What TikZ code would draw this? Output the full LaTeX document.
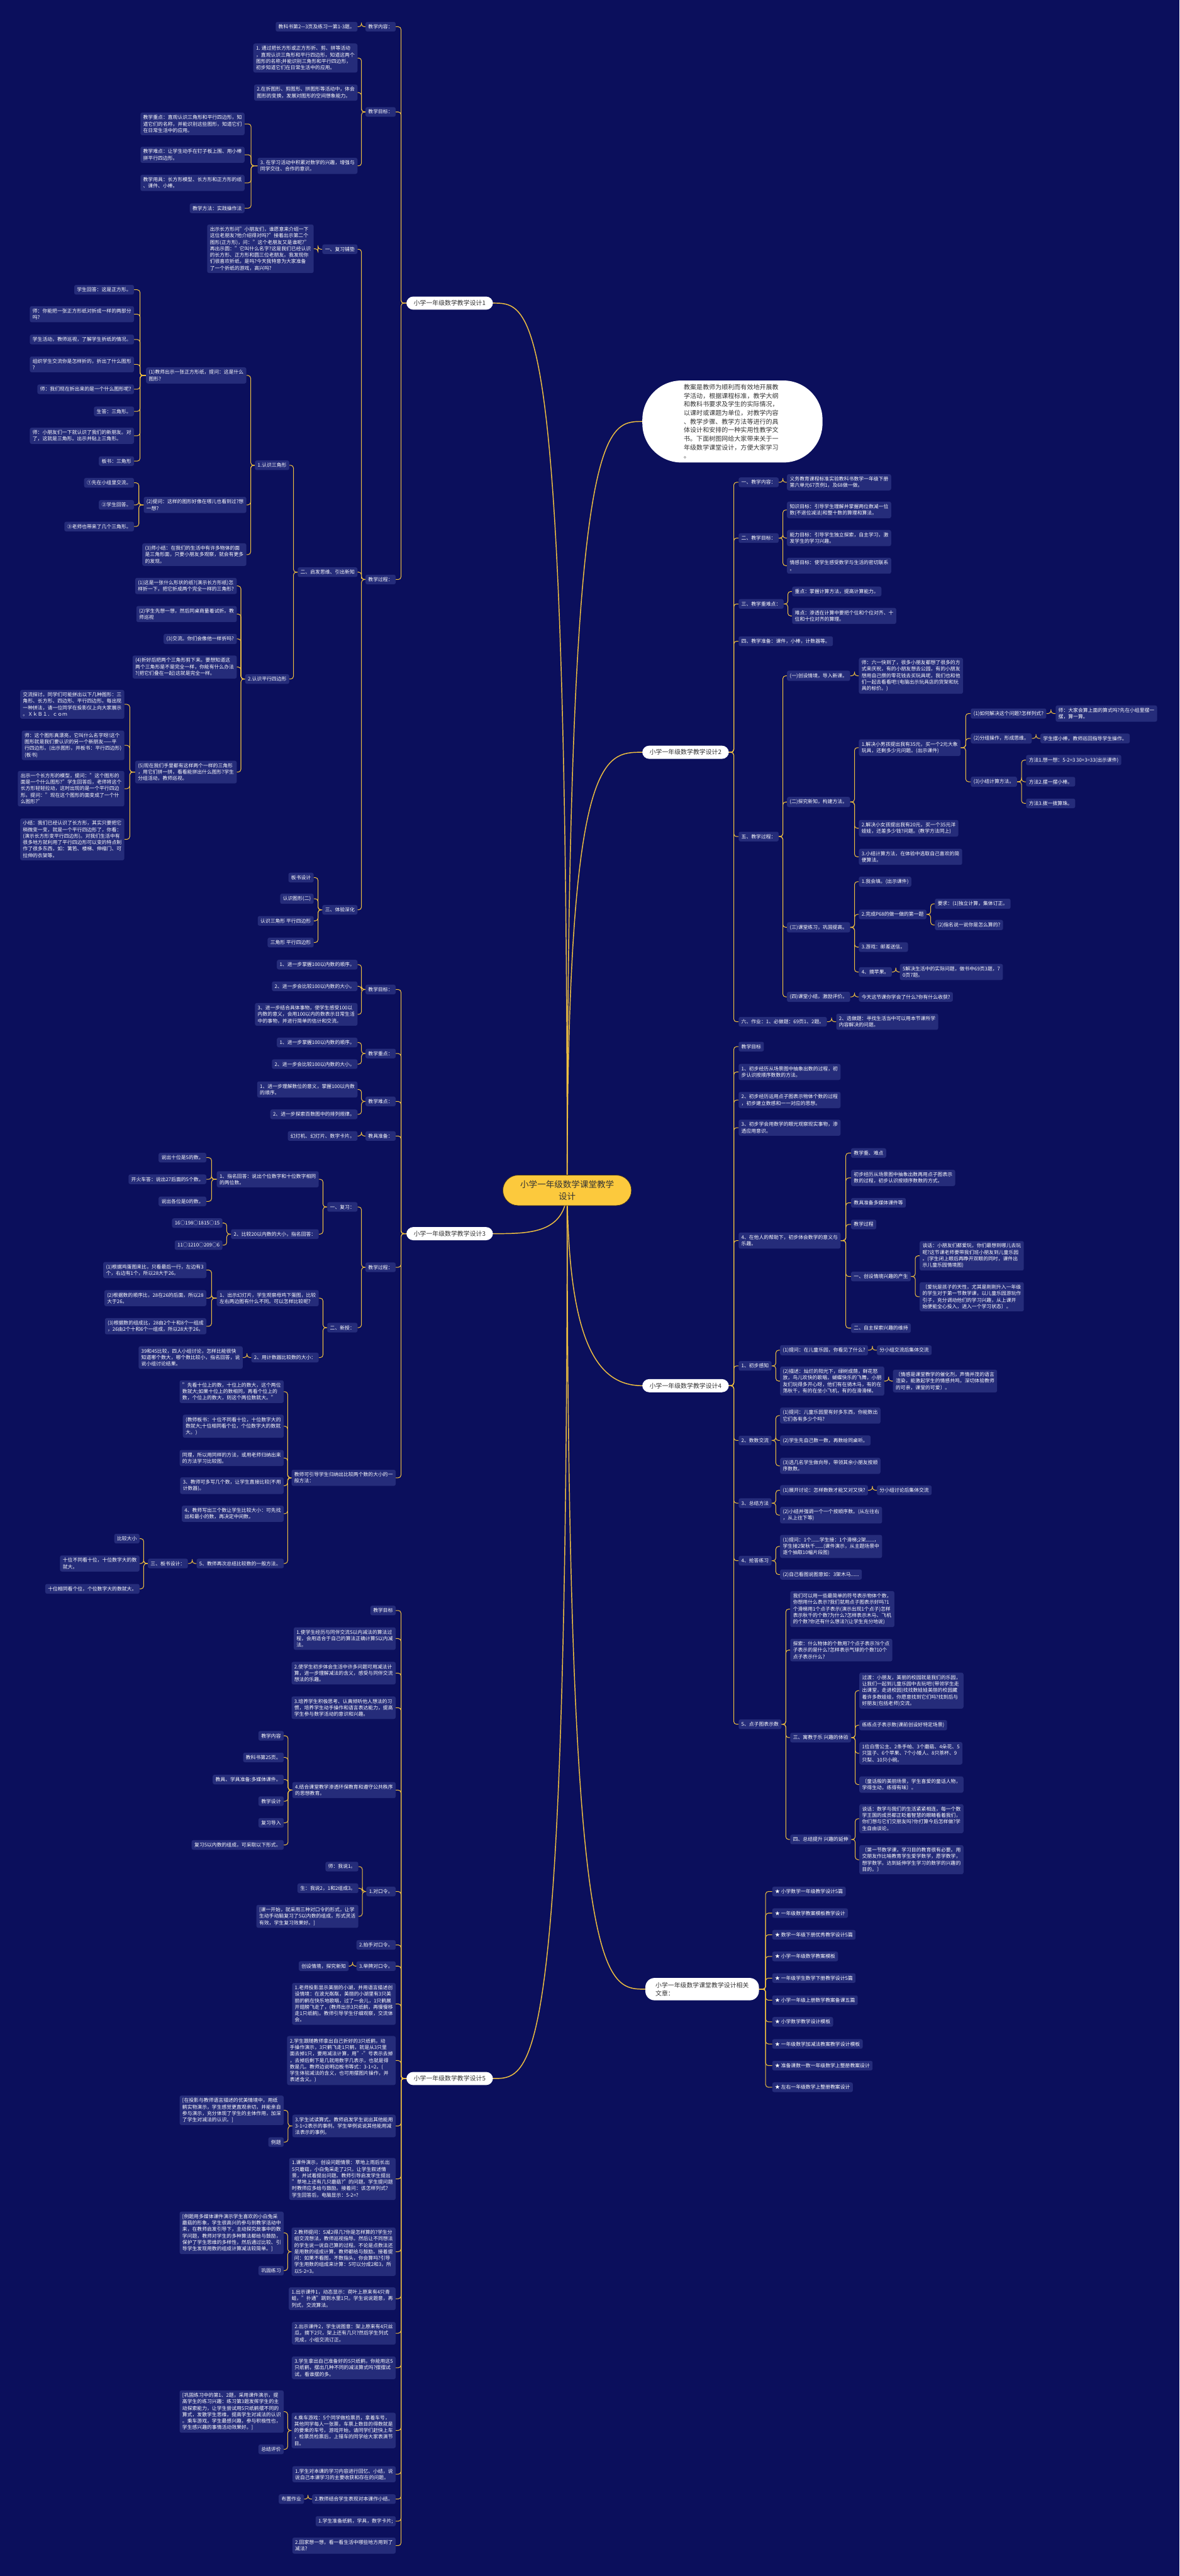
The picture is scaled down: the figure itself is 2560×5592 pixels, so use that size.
\documentclass[tikz,border=0pt]{standalone}
\usepackage{fontspec}
\setmainfont{Noto Sans CJK SC}
\usetikzlibrary{calc,backgrounds}
\definecolor{bgc}{RGB}{11,15,92}
\definecolor{ndc}{RGB}{37,44,122}
\definecolor{lnc}{RGB}{240,192,64}
\definecolor{ctc}{RGB}{252,201,61}
\definecolor{txd}{RGB}{51,51,51}
\tikzset{
 nd/.style={fill=ndc,text=white,rounded corners=4pt,inner xsep=6pt,inner ysep=5.5pt,font=\fontsize{10.7}{14}\selectfont,align=left},
 lnode/.style={nd,anchor=east},
 rnode/.style={nd,anchor=west},
 brnode/.style={fill=white,text=txd,rounded corners=15pt,inner xsep=16pt,inner ysep=8pt,font=\fontsize{13.5}{18}\selectfont,align=left},
 cnx/.style={draw=lnc,line width=1.4pt,rounded corners=6pt},
 mainln/.style={draw=lnc,line width=2pt},
}
\newcommand\lkL[2]{\draw[cnx] (#1.west) -| ($(#1.west)!.5!(#2.east)$) |- (#2.east);}
\newcommand\lkR[2]{\draw[cnx] (#1.east) -| ($(#1.east)!.5!(#2.west)$) |- (#2.west);}
\begin{document}
\begin{tikzpicture}[x=1pt,y=-1pt]
\useasboundingbox (0,0) rectangle (2560,5592);
% center
\node[fill=ctc,draw={rgb,255:red,70;green,55;blue,30},line width=1pt,text=txd,rounded corners=33pt,minimum width=279pt,minimum height=66pt,inner sep=0pt,align=center,font=\fontsize{18.5}{25}\selectfont] (c) at (1231,2584) {小学一年级数学课堂教学\\设计};
\node[fill=white,text=txd,rounded corners=85pt,anchor=west,minimum height=178pt,inner xsep=90pt,inner ysep=8pt,text width=211pt,align=left,font=\fontsize{13.7}{18.6}\selectfont] (intro) at (1394,915) {教案是教师为顺利而有效地开展教\\学活动，根据课程标准，教学大纲\\和教科书要求及学生的实际情况，\\以课时或课题为单位，对教学内容\\、教学步骤、教学方法等进行的具\\体设计和安排的一种实用性教学文\\书。下面树图网给大家带来关于一\\年级数学课堂设计，方便大家学习\\。};
% ================= Branch 1
\node[brnode] (b1) at (976,658) {小学一年级数学教学设计1};
\node[lnode] (b1a) at (859,58) {教学内容：};
\node[lnode] (b1b) at (859,243) {教学目标：};
\node[lnode] (b1c) at (859,1258) {教学过程：};
\node[lnode] (b1a1) at (776,58) {教科书第2—3页及练习一第1-3题。};
\node[lnode] (b1b1) at (776,126) {1. 通过把长方形或正方形折、剪、拼等活动\\，直观认识三角形和平行四边形，知道这两个\\图形的名称;并能识别三角形和平行四边形，\\初步知道它们在日常生活中的应用。};
\node[lnode] (b1b2) at (776,201) {2.在折图形、剪图形、拼图形等活动中，体会\\图形的变换，发展对图形的空间想象能力。};
\node[lnode] (b1b3) at (776,360) {3. 在学习活动中积累对数学的兴趣，增强与\\同学交往、合作的意识。};
\node[lnode] (b1b3a) at (531,269) {教学重点：直观认识三角形和平行四边形，知\\道它们的名称，并能识别这些图形，知道它们\\在日常生活中的应用。};
\node[lnode] (b1b3b) at (531,336) {教学难点：让学生动手在钉子板上围、用小棒\\拼平行四边形。};
\node[lnode] (b1b3c) at (531,397) {教学用具：长方形模型、长方形和正方形的纸\\、课件、小棒。};
\node[lnode] (b1b3d) at (531,452) {教学方法：实践操作法};
\node[lnode] (b1c1) at (776,541) {一、复习铺垫};
\node[lnode] (b1c1a) at (681,540) {出示长方形问"小朋友们，谁愿意来介绍一下\\这位老朋友?他介绍得对吗?"接着出示第二个\\图形(正方形)，问："这个老朋友又是谁呢?"\\再出示圆："它叫什么名字?这是我们已经认识\\的长方形、正方形和圆三位老朋友。我发现你\\们很喜欢折纸，是吗?今天我特意为大家准备\\了一个折纸的游戏，高兴吗?};
\node[lnode] (b1c2) at (776,1242) {二、启发思维、引出新知};
\node[lnode] (b1c2a) at (628,1010) {1.认识三角形};
\node[lnode] (b1c2b) at (628,1474) {2.认识平行四边形};
\node[lnode] (b1c2a1) at (535,815) {(1)教师出示一张正方形纸，提问：这是什么\\图形?};
\node[lnode] (b1c2a2) at (535,1096) {(2)提问：这样的图形好像在哪儿也看到过?想\\一想?};
\node[lnode] (b1c2a3) at (535,1204) {(3)师小结：在我们的生活中有许多物体的面\\是三角形面，只要小朋友多观察，就会有更多\\的发现。};
\node[lnode] (p1) at (291,629) {学生回答：这是正方形。};
\node[lnode] (p2) at (291,682) {师：你能把一张正方形纸对折成一样的两部分\\吗?};
\node[lnode] (p3) at (291,737) {学生活动，教师巡视，了解学生折纸的情况。};
\node[lnode] (p4) at (291,791) {组织学生交流你是怎样折的，折出了什么图形\\?};
\node[lnode] (p5) at (291,845) {师：我们现在折出来的是一个什么图形呢?};
\node[lnode] (p6) at (291,893) {生答：三角形。};
\node[lnode] (p7) at (291,946) {师：小朋友们一下就认识了我们的新朋友。对\\了，这就是三角形。出示并贴上三角形。};
\node[lnode] (p8) at (291,1001) {板书：三角形};
\node[lnode] (q1) at (291,1048) {①先在小组里交流。};
\node[lnode] (q2) at (291,1096) {②学生回答。};
\node[lnode] (q3) at (291,1143) {③老师也带来了几个三角形。};
\node[lnode] (r1) at (514,1272) {(1)这是一张什么形状的纸?(演示长方形纸)怎\\样折一下，把它折成两个完全一样的三角形?};
\node[lnode] (r2) at (514,1333) {(2)学生先想一想，然后同桌商量着试折。教\\师巡视};
\node[lnode] (r3) at (514,1387) {(3)交流。你们会像他一样折吗?};
\node[lnode] (r4) at (514,1448) {(4)折好后把两个三角形剪下来。要想知道这\\两个三角形是不是完全一样，你能有什么办法\\?(把它们叠在一起)这就是完全一样。};
\node[lnode] (r5) at (514,1676) {(5)现在我们手里都有这样两个一样的三角形\\，用它们拼一拼，看看能拼出什么图形?学生\\分组活动，教师巡视。};
\node[lnode] (s1) at (270,1529) {交流探讨。同学们可能拼出以下几种图形：三\\角形、长方形、四边形、平行四边形。每出现\\一种拼法，请一位同学在投影仪上向大家展示\\。ＸｋＢ１．ｃｏｍ};
\node[lnode] (s2) at (270,1618) {师：这个图形真漂亮，它叫什么名字呀!这个\\图形就是我们要认识的另一个新朋友——平\\行四边形。(出示图形，并板书：平行四边形)\\(板书)};
\node[lnode] (s3) at (270,1712) {出示一个长方形的模型，提问："这个图形的\\面是一个什么图形?"学生回答后，老师将这个\\长方形轻轻拉动，这时出现的是一个平行四边\\形。提问："现在这个图形的面变成了一个什\\么图形?"};
\node[lnode] (s4) at (270,1822) {小结：我们已经认识了长方形，其实只要把它\\稍微变一变，就是一个平行四边形了，你看：\\(演示长方形变平行四边形)。对我们生活中有\\很多地方就利用了平行四边形可以变的特点制\\作了很多东西，如：篱笆、楼梯、伸缩门、可\\拉伸的衣架等。};
\node[lnode] (b1c3) at (776,1975) {三、体验深化};
\node[lnode] (t1) at (681,1905) {板书设计};
\node[lnode] (t2) at (681,1951) {认识图形(二)};
\node[lnode] (t3) at (681,1999) {认识三角形 平行四边形};
\node[lnode] (t4) at (681,2046) {三角形 平行四边形};
% ================= Branch 3
\node[brnode] (b3) at (976,2678) {小学一年级数学教学设计3};
\node[lnode] (b3a) at (859,2148) {教学目标：};
\node[lnode] (b3b) at (859,2287) {教学重点：};
\node[lnode] (b3c) at (859,2391) {教学难点：};
\node[lnode] (b3d) at (859,2466) {教具准备：};
\node[lnode] (b3e) at (859,2751) {教学过程：};
\node[lnode] (b3f) at (859,3208) {教师可引导学生归纳出比较两个数的大小的一\\般方法：};
\node[lnode] (b3a1) at (776,2094) {1、进一步掌握100以内数的顺序。};
\node[lnode] (b3a2) at (776,2141) {2、进一步会比较100以内数的大小。};
\node[lnode] (b3a3) at (776,2202) {3、进一步结合具体事物，使学生感受100以\\内数的意义，会用100以内的数表示日常生活\\中的事物，并进行简单的估计和交流。};
\node[lnode] (b3b1) at (776,2263) {1、进一步掌握100以内数的顺序。};
\node[lnode] (b3b2) at (776,2310) {2、进一步会比较100以内数的大小。};
\node[lnode] (b3c1) at (776,2365) {1、进一步理解数位的意义，掌握100以内数\\的顺序。};
\node[lnode] (b3c2) at (776,2419) {2、进一步探索百数图中的排列规律。};
\node[lnode] (b3d1) at (776,2466) {幻灯机、幻灯片、数字卡片。};
\node[lnode] (b3e1) at (776,2620) {一、复习：};
\node[lnode] (b3e2) at (776,2882) {二、新授：};
\node[lnode] (b3e1a) at (692,2560) {1、指名回答：说出个位数字和十位数字相同\\的两位数。};
\node[lnode] (b3e1b) at (692,2679) {2、比较20以内数的大小，指名回答：};
\node[lnode] (u1) at (448,2513) {说出十位是5的数。};
\node[lnode] (u2) at (448,2560) {开火车答：说出27后面的5个数。};
\node[lnode] (u3) at (448,2608) {说出各位是0的数。};
\node[lnode] (v1) at (483,2655) {16○198○1815○15};
\node[lnode] (v2) at (483,2703) {11○1210○209○6};
\node[lnode] (b3e2a) at (692,2818) {1、出示幻灯片，学生观察母鸡下蛋图，比较\\左右两边图有什么不同。可以怎样比较呢?};
\node[lnode] (b3e2b) at (692,2947) {2、用计数器比较数的大小：};
\node[lnode] (w1) at (448,2757) {(1)根据鸡蛋图来比，只看最后一行，左边有3\\个，右边有1个，所以28大于26。};
\node[lnode] (w2) at (448,2818) {(2)根据数的顺序比，28在26的后面，所以28\\大于26。};
\node[lnode] (w3) at (448,2879) {(3)根据数的组成比，28由2个十和8个一组成\\，26由2个十和6个一组成，所以28大于26。};
\node[lnode] (w4) at (527,2947) {39和45比较，四人小组讨论，怎样比能很快\\知道哪个数大，哪个数比较小，指名回答，说\\说小组讨论结果。};
\node[lnode] (f1) at (616,3021) {"先看十位上的数，十位上的数大，这个两位\\数就大;如果十位上的数相同，再看个位上的\\数，个位上的数大，则这个两位数就大。"};
\node[lnode] (f2) at (616,3096) {(教师板书：十位不同看十位，十位数字大的\\数就大;十位相同看个位，个位数字大的数就\\大。)};
\node[lnode] (f3) at (616,3165) {同理，所以用同样的方法，或用老师归纳出来\\的方法学习比较图。};
\node[lnode] (f4) at (616,3225) {3、教师可多写几个数，让学生直接比较(不用\\计数器)。};
\node[lnode] (f5) at (616,3286) {4、教师写出三个数让学生比较大小：可先找\\出和最小的数，再决定中间数。};
\node[lnode] (f6) at (616,3394) {5、教师再次总结比较数的一般方法。};
\node[lnode] (g) at (408,3394) {三、板书设计：};
\node[lnode] (g1) at (303,3340) {比较大小};
\node[lnode] (g2) at (303,3394) {十位不同看十位，十位数字大的数\\就大。};
\node[lnode] (g3) at (303,3449) {十位相同看个位，个位数字大的数就大。};
% ================= Branch 5
\node[brnode] (b5) at (976,4512) {小学一年级数学教学设计5};
\node[lnode] (e1) at (859,3496) {教学目标};
\node[lnode] (e2) at (859,3557) {1.使学生经历与同伴交流5以内减法的算法过\\程，会用适合于自己的算法正确计算5以内减\\法。};
\node[lnode] (e3) at (859,3632) {2.使学生初步体会生活中许多问题可用减法计\\算，进一步理解减法的含义，感受与同伴交流\\想法的乐趣。};
\node[lnode] (e4) at (859,3707) {3.培养学生积极思考、认真倾听他人想法的习\\惯，培养学生动手操作和语言表达能力，提高\\学生参与数学活动的意识和兴趣。};
\node[lnode] (e5) at (859,3886) {4.结合课堂教学渗透环保教育和遵守公共秩序\\的思想教育。};
\node[lnode] (e6) at (859,4106) {1.对口令。};
\node[lnode] (e7) at (859,4222) {2.拍手对口令。};
\node[lnode] (e8) at (859,4268) {3.举牌对口令。};
\node[lnode] (e9) at (859,4350) {1.老师投影显示美丽的小湖，并用语言描述创\\设情境：在波光粼粼，美丽的小湖里有3只美\\丽的鹤在快乐地歌唱，过了一会儿，1只鹤展\\开翅膀飞走了，(教师出示3只纸鹤，再慢慢移\\走1只纸鹤)。教师引导学生仔细观察，交流体\\会。};
\node[lnode] (e10) at (859,4473) {2.学生跟随教师拿出自己折好的3只纸鹤，动\\手操作演示，3只鹤飞走1只鹤，就是从3只里\\面去掉1只，要用减法计算，用"-"号表示去掉\\，去掉后剩下是几就用数字几表示，也就是得\\数是几。教师边说明边板书等式：3-1=2。(\\学生体验减法的含义，也可用摆图片操作，并\\表述含义。)};
\node[lnode] (e11) at (859,4615) {3.学生试读算式。教师启发学生说出其他能用\\3-1=2表示的事例。学生举例说说其他能用减\\法表示的事例。};
\node[lnode] (e12) at (859,4730) {1.课件演示，创设问题情景：草地上雨后长出\\5只蘑菇，小白兔采走了2只。让学生叙述情\\景，并试着提出问题。教师引导启发学生提出\\"草地上还有几只蘑菇?"的问题。学生提问题\\时教师应多给与鼓励。接着问：该怎样列式?\\学生回答后，电脑显示：5-2=?};
\node[lnode] (e13) at (859,4888) {2.教师提问：5减2得几?你是怎样算的?学生分\\组交流想法，教师巡视指导。然后让不同想法\\的学生说一说自己算的过程。不论是点数法还\\是用数的组成计算，教师都给与鼓励。接着提\\问：如果不看图，不数指头，你会算吗?引导\\学生用数的组成来计算：5可以分成2和3，所\\以5-2=3。};
\node[lnode] (e14) at (859,4990) {1.出示课件1，动态显示：荷叶上原来有4只青\\蛙，"扑通"跳到水里1只。学生说说题意，再\\列式，交流算法。};
\node[lnode] (e15) at (859,5065) {2.出示课件2，学生说图意：架上原来有4只丝\\瓜，摘下2只，架上还有几只?然后学生列式\\完成，小组交流订正。};
\node[lnode] (e16) at (859,5140) {3.学生拿出自己准备好的5只纸鹤，你能用这5\\只纸鹤，摆出几种不同的减法算式吗?摆摆试\\试，看谁摆的多。};
\node[lnode] (e17) at (859,5276) {4.乘车游戏：5个同学做检票员，拿着车号，\\其他同学每人一张票，车票上数目的得数就是\\的要乘的车号。游戏开始，请同学们赶快上车\\，检票员检票后，上错车的同学给大家表演节\\目。};
\node[lnode] (e18) at (859,5371) {1.学生对本课的学习内容进行回忆、小结，说\\说自己本课学习的主要收获和存在的问题。};
\node[lnode] (e19) at (859,5425) {2.教师结合学生表现对本课作小结。};
\node[lnode] (e20) at (859,5473) {1.学生准备纸鹤，学具，数字卡片;};
\node[lnode] (e21) at (859,5526) {2.回家想一想，看一看生活中哪些地方用到了\\减法?};
\node[lnode] (e5a) at (616,3768) {教学内容};
\node[lnode] (e5b) at (616,3815) {教科书第25页。};
\node[lnode] (e5c) at (616,3863) {教具、学具准备:多媒体课件。};
\node[lnode] (e5d) at (616,3910) {教学设计};
\node[lnode] (e5e) at (616,3957) {复习导入};
\node[lnode] (e5f) at (616,4005) {复习5以内数的组成，可采取以下形式。};
\node[lnode] (e6a) at (778,4052) {师：我说1。};
\node[lnode] (e6b) at (778,4099) {生：我说2，1和2组成3。};
\node[lnode] (e6c) at (778,4160) {[课一开始，就采用三种对口令的形式，让学\\生动手动脑复习了5以内数的组成，形式灵活\\有效，学生复习效果好。]};
\node[lnode] (e8a) at (757,4268) {创设情境，探究新知};
\node[lnode] (e11a) at (616,4581) {[在投影与教师语言描述的优美情境中，用纸\\鹤实物演示，学生感觉更直观亲切，并能亲自\\参与演示，充分体现了学生的主体作用，加深\\了学生对减法的认识。]};
\node[lnode] (e11b) at (616,4650) {例题};
\node[lnode] (e13a) at (616,4847) {[例题用多媒体课件演示学生喜欢的小白兔采\\蘑菇的形象，学生很高兴的参与到教学活动中\\来，在教师启发引导下，主动探究故事中的数\\学问题，教师对学生的多种算法都给与鼓励，\\保护了学生思维的多样性，然后通过比较、引\\导学生发现用数的组成计算减法较简单。]};
\node[lnode] (e13b) at (616,4929) {巩固练习};
\node[lnode] (e17a) at (616,5235) {[巩固练习中的第1、2题，采用课件演示，提\\高学生的练习兴趣：练习第3题发挥学生的主\\动探索能力，让学生尝试用5只纸鹤摆不同的\\算式，发散学生思维，提高学生对减法的认识\\。乘车游戏，学生最感兴趣，参与积极性也，\\学生感兴趣的事情活动效果好。]};
\node[lnode] (e17b) at (616,5317) {总结评价};
\node[lnode] (e19a) at (660,5425) {布置作业};
% ================= Branch 2
\node[brnode] (b2) at (1488,1633) {小学一年级数学教学设计2};
\node[rnode] (h1) at (1603,1047) {一、教学内容：};
\node[rnode] (h2) at (1603,1168) {二、教学目标：};
\node[rnode] (h3) at (1603,1311) {三、教学重难点：};
\node[rnode] (h4) at (1603,1392) {四、教学准备：课件，小棒，计数器等。};
\node[rnode] (h5) at (1603,1816) {五、教学过程：};
\node[rnode] (h6) at (1603,2218) {六、作业：1、必做题：69页1、2题。};
\node[rnode] (h1a) at (1708,1047) {义务教育课程标准实验教科书数学一年级下册\\第六单元67页例1，及68做一做。};
\node[rnode] (h2a) at (1708,1107) {知识目标：引导学生理解并掌握两位数减一位\\数(不退位减法)和整十数的算理和算法。};
\node[rnode] (h2b) at (1708,1168) {能力目标：引导学生独立探索，自主学习，激\\发学生的学习兴趣。};
\node[rnode] (h2c) at (1708,1228) {情感目标：使学生感受数学与生活的密切联系\\。};
\node[rnode] (h3a) at (1719,1284) {重点：掌握计算方法，提高计算能力。};
\node[rnode] (h3b) at (1719,1337) {难点：渗透在计算中要把个位和个位对齐、十\\位和十位对齐的算理。};
\node[rnode] (h5a) at (1708,1467) {(一)创设情境，导入新课。};
\node[rnode] (h5b) at (1708,1741) {(二)探究新知，构建方法。};
\node[rnode] (h5c) at (1708,2013) {(三)课堂练习，巩固提高。};
\node[rnode] (h5d) at (1708,2164) {(四)课堂小结，激励评价。};
\node[rnode] (h5a1) at (1864,1467) {师：六一快到了，很多小朋友都想了很多的方\\式来庆祝，有的小朋友想去公园，有的小朋友\\想用自己攒的零花钱去买玩具呢，我们也和他\\们一起去看看吧!(电脑出示玩具店的货架和玩\\具的标价。)};
\node[rnode] (h5b1) at (1864,1623) {1.解决小男孩提出我有35元，买一个2元大象\\玩具，还剩多少元问题。(出示课件)};
\node[rnode] (h5b2) at (1864,1798) {2.解决小女孩提出我有20元，买一个35元洋\\娃娃，还差多少钱?问题。(教学方法同上)};
\node[rnode] (h5b3) at (1864,1860) {3.小结计算方法，在体验中选取自己喜欢的简\\便算法。};
\node[rnode] (k1) at (2107,1549) {(1)如何解决这个问题?怎样列式?};
\node[rnode] (k2) at (2107,1603) {(2)分组操作，形成思维。};
\node[rnode] (k3) at (2107,1697) {(3)小结计算方法。};
\node[rnode] (k1a) at (2291,1549) {师：大家会算上面的算式吗?先在小组里摆一\\摆，算一算。};
\node[rnode] (k2a) at (2258,1603) {学生摆小棒，教师巡回指导学生操作。};
\node[rnode] (k3a) at (2227,1650) {方法1.想一想：5-2=3 30+3=33(出示课件)};
\node[rnode] (k3b) at (2227,1697) {方法2.摆一摆小棒。};
\node[rnode] (k3c) at (2227,1744) {方法3.拨一拨算珠。};
\node[rnode] (m1) at (1864,1914) {1.我会填。(出示课件)};
\node[rnode] (m2) at (1864,1985) {2.完成P68的做一做的第一题};
\node[rnode] (m3) at (1864,2056) {3.游戏：邮差送信。};
\node[rnode] (m4) at (1864,2110) {4、摘苹果。};
\node[rnode] (m2a) at (2029,1962) {要求：(1)独立计算，集体订正。};
\node[rnode] (m2b) at (2029,2008) {(2)指名说一说你是怎么算的?};
\node[rnode] (m4a) at (1953,2110) {5解决生活中的实际问题，做书中69页3题，7\\0页7题。};
\node[rnode] (h5d1) at (1864,2164) {今天这节课你学会了什么?你有什么收获?};
\node[rnode] (h6a) at (1815,2218) {2、选做题：寻找生活当中可以用本节课所学\\内容解决的问题。};
% ================= Branch 4
\node[brnode] (b4) at (1488,3008) {小学一年级数学教学设计4};
\node[rnode] (n1) at (1603,2272) {教学目标};
\node[rnode] (n2) at (1603,2327) {1、初步经历从场景图中抽象出数的过程，初\\步认识按顺序数数的方法。};
\node[rnode] (n3) at (1603,2388) {2、初步经历运用点子图表示物体个数的过程\\，初步建立数感和一一对应的思想。};
\node[rnode] (n4) at (1603,2448) {3、初步学会用数学的眼光观察现实事物，渗\\透应用意识。};
\node[rnode] (n5) at (1603,2693) {4、在他人的帮助下，初步体会数学的意义与\\乐趣。};
\node[rnode] (n6) at (1603,2965) {1、初步感知};
\node[rnode] (n7) at (1603,3127) {2、数数交流};
\node[rnode] (n8) at (1603,3263) {3、总结方法};
\node[rnode] (n9) at (1603,3388) {4、抢答练习};
\node[rnode] (n10) at (1603,3743) {5、点子图表示数};
\node[rnode] (n5a) at (1847,2503) {教学重、难点};
\node[rnode] (n5b) at (1847,2557) {初步经历从场景图中抽象出数再用点子图表示\\数的过程，初步认识按顺序数数的方式。};
\node[rnode] (n5c) at (1847,2611) {教具准备多媒体课件等};
\node[rnode] (n5d) at (1847,2658) {教学过程};
\node[rnode] (n5e) at (1847,2771) {一、创设情境兴趣的产生};
\node[rnode] (n5f) at (1847,2883) {二、自主探索兴趣的维持};
\node[rnode] (n5e1) at (1996,2726) {谈话：小朋友们都爱玩，你们最想到哪儿去玩\\呢?这节课老师要带我们班小朋友到儿童乐园\\。(学生闭上眼后再睁开双眼的同时，课件出\\示儿童乐园情境图)};
\node[rnode] (n5e2) at (1996,2815) {〔爱玩是孩子的天性，尤其是刚刚升入一年级\\的学生对于第一节数学课，以儿童乐园游玩作\\引子，充分调动他们的学习兴趣，从上课开\\始便能全心投入，进入一个学习状态〕。};
\node[rnode] (n6a) at (1693,2931) {(1)提问：在儿童乐园，你看见了什么?};
\node[rnode] (n6a1) at (1903,2931) {分小组交流后集体交流};
\node[rnode] (n6b) at (1693,2998) {(2)描述：灿烂的阳光下，绿树成荫，鲜花怒\\放，鸟儿欢快的歌唱，蝴蝶快乐的飞舞，小朋\\友们玩得多开心呀，他们有在骑木马，有的在\\荡秋千，有的在坐小飞机，有的在滑滑梯。};
\node[rnode] (n6b1) at (1938,2998) {〔情感是课堂教学的催化剂，声情并茂的语言\\渲染，能激起学生的情感共鸣，深切体验教师\\的可亲，课堂的可爱〕。};
\node[rnode] (n7a) at (1693,3073) {(1)提问：儿童乐园里有好多东西，你能数出\\它们各有多少个吗?};
\node[rnode] (n7b) at (1693,3127) {(2)学生先自己数一数，再数给同桌听。};
\node[rnode] (n7c) at (1693,3182) {(3)选几名学生做向导，带领其余小朋友按顺\\序数数。};
\node[rnode] (n8a) at (1693,3235) {(1)展开讨论：怎样数数才能又对又快?};
\node[rnode] (n8a1) at (1903,3235) {分小组讨论后集体交流};
\node[rnode] (n8b) at (1693,3289) {(2)小结并强调一个一个按顺序数。(从左往右\\，从上往下等)};
\node[rnode] (n9a) at (1693,3357) {(1)提问：1个......学生接：1个滑梯;2架......，\\学生接2架秋千......(课件演示，从主题场景中\\逐个抽取10幅片段图)};
\node[rnode] (n9b) at (1693,3418) {(2)自己看图说图意如：3架木马......};
\node[rnode] (n10a) at (1715,3493) {我们可以用一些最简单的符号表示物体个数，\\你想用什么表示?我们就用点子图表示好吗?1\\个滑梯用1个点子表示(演示出现1个点子)怎样\\表示秋千的个数?为什么?怎样表示木马、飞机\\的个数?你还有什么想法?(让学生充分地说)};
\node[rnode] (n10b) at (1715,3582) {探索：什么物体的个数用7个点子表示?8个点\\子表示的是什么?怎样表示气球的个数?10个\\点子表示什么?};
\node[rnode] (n10c) at (1715,3772) {三、寓教于乐 兴趣的体验};
\node[rnode] (n10d) at (1715,3993) {四、总结提升 兴趣的延伸};
\node[rnode] (o1) at (1865,3670) {过渡：小朋友，美丽的校园就是我们的乐园，\\让我们一起到儿童乐园中去玩吧!(带领学生走\\出课堂，走进校园)找找数娃娃美丽的校园藏\\着许多数娃娃，你愿意找到它们吗?找到后与\\好朋友(包括老师)交流。};
\node[rnode] (o2) at (1865,3745) {练练点子表示数(课前创设好特定场景)};
\node[rnode] (o3) at (1865,3806) {1位白雪公主、2条手帕、3个蘑菇、4朵花、5\\只篮子、6个苹果、7个小矮人、8只茶杯、9\\只梨、10只小碗。};
\node[rnode] (o4) at (1865,3874) {〔童话般的美丽场景，学生喜爱的童话人物，\\学得生动，练得有味〕。};
\node[rnode] (o5) at (1865,3948) {谈话：数学与我们的生活紧紧相连，每一个数\\学王国的成员都正眨着智慧的眼睛看着我们，\\你们想与它们交朋友吗?你打算今后怎样做?学\\生自由谈论。};
\node[rnode] (o6) at (1865,4037) {〔第一节数学课，学习目的教育很有必要。用\\交朋友作比喻教育学生爱学数学，愿学数学，\\想学数学。达到延伸学生学习的数学的兴趣的\\目的。〕};
% ================= Related
\node[brnode,inner xsep=22pt,inner ysep=9pt,rounded corners=20pt] (b6) at (1524,4318) {小学一年级数学课堂教学设计相关\\文章：};
\node[rnode] (a1) at (1676,4106) {★ 小学数学一年级教学设计5篇};
\node[rnode] (a2) at (1676,4153) {★ 一年级数学教案模板教学设计};
\node[rnode] (a3) at (1676,4200) {★ 数学一年级下册优秀教学设计5篇};
\node[rnode] (a4) at (1676,4247) {★ 小学一年级数学教案模板};
\node[rnode] (a5) at (1676,4294) {★ 一年级学生数学下册教学设计5篇};
\node[rnode] (a6) at (1676,4342) {★ 小学一年级上册数学教案备课五篇};
\node[rnode] (a7) at (1676,4389) {★ 小学数学教学设计模板};
\node[rnode] (a8) at (1676,4437) {★ 一年级数学加减法教案教学设计模板};
\node[rnode] (a9) at (1676,4484) {★ 准备课数一数一年级数学上整册教案设计};
\node[rnode] (a10) at (1676,4531) {★ 左右一年级数学上整册教案设计};
% ================= connectors
\begin{scope}[on background layer]
\fill[bgc] (0,0) rectangle (2560,5592);
\draw[mainln] (c.center) .. controls (1231,658) and (1160,658) .. (b1.east);
\draw[mainln] (c.center) .. controls (1228,2678) and (1150,2678) .. (b3.east);
\draw[mainln] (c.center) .. controls (1231,4512) and (1160,4512) .. (b5.east);
\draw[mainln] (c.center) .. controls (1231,915) and (1310,915) .. (intro.west);
\draw[mainln] (c.center) .. controls (1231,1633) and (1310,1633) .. (b2.west);
\draw[mainln] (c.center) .. controls (1234,2900) and (1290,3008) .. (b4.west);
\draw[mainln] (c.center) .. controls (1231,4318) and (1310,4318) .. (b6.west);
% branch 1
\foreach \k in {b1a,b1b,b1c}{\lkL{b1}{\k}}
\lkL{b1a}{b1a1}
\foreach \k in {b1b1,b1b2,b1b3}{\lkL{b1b}{\k}}
\foreach \k in {b1b3a,b1b3b,b1b3c,b1b3d}{\lkL{b1b3}{\k}}
\foreach \k in {b1c1,b1c2,b1c3}{\lkL{b1c}{\k}}
\lkL{b1c1}{b1c1a}
\foreach \k in {b1c2a,b1c2b}{\lkL{b1c2}{\k}}
\foreach \k in {b1c2a1,b1c2a2,b1c2a3}{\lkL{b1c2a}{\k}}
\foreach \k in {p1,p2,p3,p4,p5,p6,p7,p8}{\lkL{b1c2a1}{\k}}
\foreach \k in {q1,q2,q3}{\lkL{b1c2a2}{\k}}
\foreach \k in {r1,r2,r3,r4,r5}{\lkL{b1c2b}{\k}}
\foreach \k in {s1,s2,s3,s4}{\lkL{r5}{\k}}
\foreach \k in {t1,t2,t3,t4}{\lkL{b1c3}{\k}}
% branch 3
\foreach \k in {b3a,b3b,b3c,b3d,b3e,b3f}{\lkL{b3}{\k}}
\foreach \k in {b3a1,b3a2,b3a3}{\lkL{b3a}{\k}}
\foreach \k in {b3b1,b3b2}{\lkL{b3b}{\k}}
\foreach \k in {b3c1,b3c2}{\lkL{b3c}{\k}}
\lkL{b3d}{b3d1}
\foreach \k in {b3e1,b3e2}{\lkL{b3e}{\k}}
\foreach \k in {b3e1a,b3e1b}{\lkL{b3e1}{\k}}
\foreach \k in {u1,u2,u3}{\lkL{b3e1a}{\k}}
\foreach \k in {v1,v2}{\lkL{b3e1b}{\k}}
\foreach \k in {b3e2a,b3e2b}{\lkL{b3e2}{\k}}
\foreach \k in {w1,w2,w3}{\lkL{b3e2a}{\k}}
\lkL{b3e2b}{w4}
\foreach \k in {f1,f2,f3,f4,f5,f6}{\lkL{b3f}{\k}}
\lkL{f6}{g}
\foreach \k in {g1,g2,g3}{\lkL{g}{\k}}
% branch 5
\foreach \k in {e1,e2,e3,e4,e5,e6,e7,e8,e9,e10,e11,e12,e13,e14,e15,e16,e17,e18,e19,e20,e21}{\lkL{b5}{\k}}
\foreach \k in {e5a,e5b,e5c,e5d,e5e,e5f}{\lkL{e5}{\k}}
\foreach \k in {e6a,e6b,e6c}{\lkL{e6}{\k}}
\lkL{e8}{e8a}
\foreach \k in {e11a,e11b}{\lkL{e11}{\k}}
\foreach \k in {e13a,e13b}{\lkL{e13}{\k}}
\foreach \k in {e17a,e17b}{\lkL{e17}{\k}}
\lkL{e19}{e19a}
% branch 2
\foreach \k in {h1,h2,h3,h4,h5,h6}{\lkR{b2}{\k}}
\lkR{h1}{h1a}
\foreach \k in {h2a,h2b,h2c}{\lkR{h2}{\k}}
\foreach \k in {h3a,h3b}{\lkR{h3}{\k}}
\foreach \k in {h5a,h5b,h5c,h5d}{\lkR{h5}{\k}}
\lkR{h5a}{h5a1}
\foreach \k in {h5b1,h5b2,h5b3}{\lkR{h5b}{\k}}
\foreach \k in {k1,k2,k3}{\lkR{h5b1}{\k}}
\lkR{k1}{k1a}
\lkR{k2}{k2a}
\foreach \k in {k3a,k3b,k3c}{\lkR{k3}{\k}}
\foreach \k in {m1,m2,m3,m4}{\lkR{h5c}{\k}}
\foreach \k in {m2a,m2b}{\lkR{m2}{\k}}
\lkR{m4}{m4a}
\lkR{h5d}{h5d1}
\lkR{h6}{h6a}
% branch 4
\foreach \k in {n1,n2,n3,n4,n5,n6,n7,n8,n9,n10}{\lkR{b4}{\k}}
\foreach \k in {n5a,n5b,n5c,n5d,n5e,n5f}{\lkR{n5}{\k}}
\foreach \k in {n5e1,n5e2}{\lkR{n5e}{\k}}
\foreach \k in {n6a,n6b}{\lkR{n6}{\k}}
\lkR{n6a}{n6a1}
\lkR{n6b}{n6b1}
\foreach \k in {n7a,n7b,n7c}{\lkR{n7}{\k}}
\foreach \k in {n8a,n8b}{\lkR{n8}{\k}}
\lkR{n8a}{n8a1}
\foreach \k in {n9a,n9b}{\lkR{n9}{\k}}
\foreach \k in {n10a,n10b,n10c,n10d}{\lkR{n10}{\k}}
\foreach \k in {o1,o2,o3,o4}{\lkR{n10c}{\k}}
\foreach \k in {o5,o6}{\lkR{n10d}{\k}}
% related
\foreach \k in {a1,a2,a3,a4,a5,a6,a7,a8,a9,a10}{\lkR{b6}{\k}}
\end{scope}
\end{tikzpicture}
\end{document}
